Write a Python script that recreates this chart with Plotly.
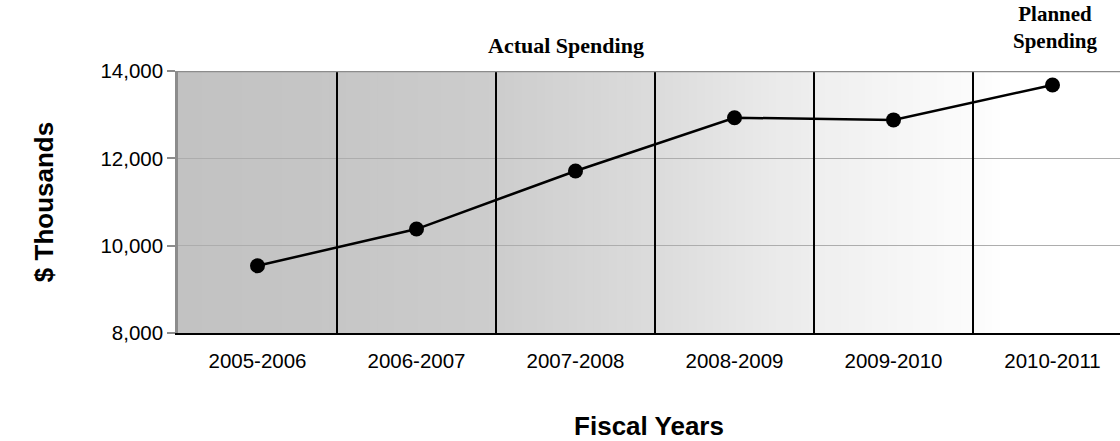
import plotly.graph_objects as go

categories = ["2005-2006", "2006-2007", "2007-2008", "2008-2009", "2009-2010", "2010-2011"]
spending = [9540, 10380, 11710, 12930, 12880, 13680]
y_ticks = [8000, 10000, 12000, 14000]
y_tick_labels = ["8,000", "10,000", "12,000", "14,000"]

x_idx = list(range(len(categories)))

fig = go.Figure()
fig.add_trace(go.Scatter(
    x=x_idx, y=spending, mode="lines+markers",
    line=dict(color="black", width=2.5),
    marker=dict(color="black", size=15),
    showlegend=False, hoverinfo="skip",
))

grad_stops = [(0.0, 194), (0.17, 198), (0.34, 205), (0.51, 220),
              (0.68, 239), (0.85, 252), (0.88, 255), (1.0, 255)]


def grey_at(t):
    for (a, va), (b, vb) in zip(grad_stops[:-1], grad_stops[1:]):
        if a <= t <= b:
            return va + (vb - va) * (t - a) / (b - a)
    return 255


shapes = []
n = 118
for i in range(n):
    t = (i + 0.5) / n
    v = int(round(grey_at(t)))
    shapes.append(dict(type="rect", xref="paper", yref="paper",
                       x0=i / n, x1=(i + 1) / n + 0.002, y0=0, y1=1,
                       fillcolor=f"rgb({v},{v},{v})", line=dict(width=0),
                       layer="below"))
for k in range(len(categories) - 1):
    shapes.append(dict(type="line", xref="x", yref="y",
                       x0=k + 0.5, x1=k + 0.5, y0=y_ticks[0], y1=y_ticks[-1],
                       line=dict(color="black", width=2)))
shapes.append(dict(type="line", xref="paper", yref="y",
                   x0=0, x1=1, y0=y_ticks[-1], y1=y_ticks[-1],
                   line=dict(color="#8c8c8c", width=2.5)))

px_per_cat = 159.0
plot_w = 1120 - 178
x_range = [-0.5, -0.5 + plot_w / px_per_cat]

fig.update_layout(
    width=1120, height=441,
    margin=dict(l=178, r=0, t=71, b=108),
    paper_bgcolor="white", plot_bgcolor="white",
    shapes=shapes,
    xaxis=dict(
        range=x_range, tickmode="array", tickvals=x_idx, ticktext=categories,
        showgrid=False, zeroline=False,
        showline=True, linecolor="black", linewidth=2,
        ticks="outside", ticklen=8, tickcolor="rgba(0,0,0,0)",
        tickfont=dict(family="Liberation Sans, Arial", size=20.5, color="black"),
        title=dict(text="<b>Fiscal Years</b>", standoff=49,
                   font=dict(family="Liberation Sans, Arial", size=26, color="black")),
    ),
    yaxis=dict(
        range=[y_ticks[0], y_ticks[-1]], tickmode="array",
        tickvals=y_ticks, ticktext=y_tick_labels,
        showgrid=True, gridcolor="#adadad", gridwidth=1, zeroline=False,
        showline=True, linecolor="#8c8c8c", linewidth=2.5,
        ticks="outside", ticklen=8, tickcolor="#8c8c8c", tickwidth=2,
        tickfont=dict(family="Liberation Sans, Arial", size=20.5, color="black"),
        title=dict(text="<b>$ Thousands</b>", standoff=40,
                   font=dict(family="Liberation Sans, Arial", size=26, color="black")),
    ),
    annotations=[
        dict(text="<b>Actual Spending</b>", xref="paper", yref="paper",
             x=(566 - 178) / plot_w, y=1.0, yshift=26, showarrow=False,
             xanchor="center", yanchor="middle",
             font=dict(family="Liberation Serif, Times New Roman", size=22, color="black")),
        dict(text="<b>Planned<br>Spending</b>", xref="paper", yref="paper",
             x=(1055 - 178) / plot_w, y=1.0, yshift=44, showarrow=False,
             xanchor="center", yanchor="middle",
             font=dict(family="Liberation Serif, Times New Roman", size=21, color="black")),
    ],
)

fig.write_html("out.html")
